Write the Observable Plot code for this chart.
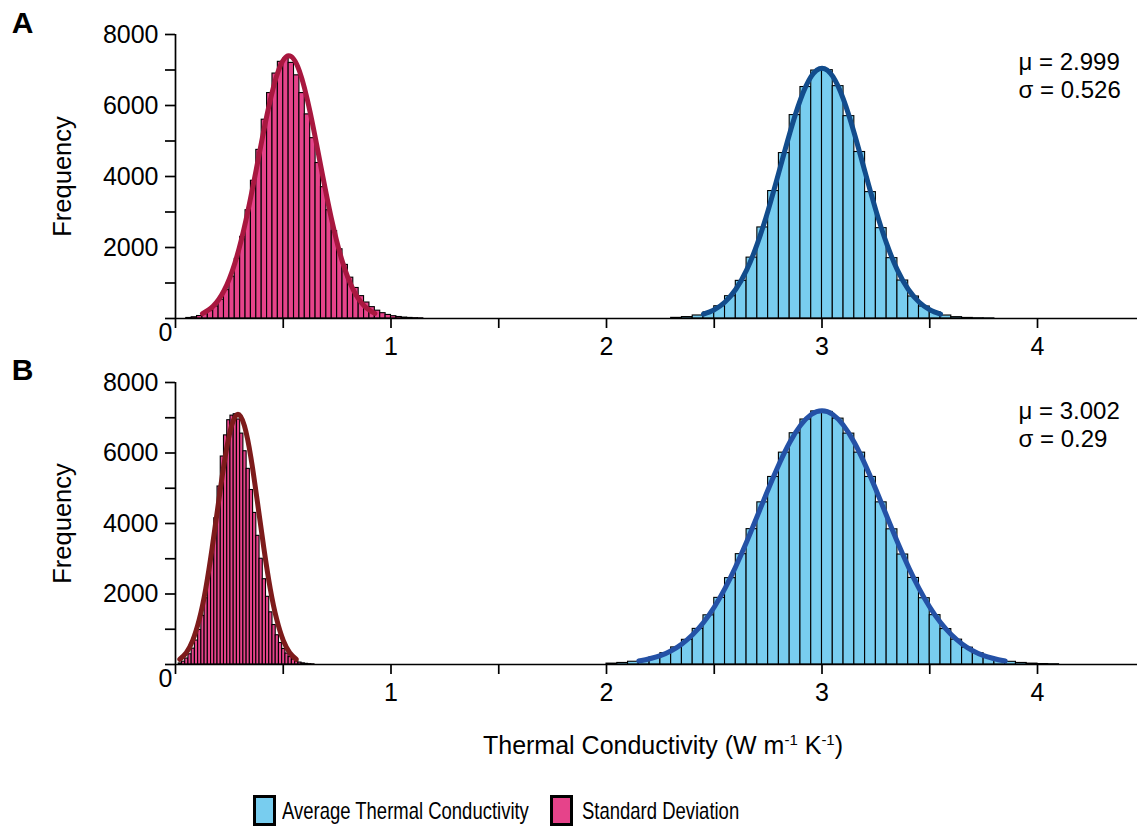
<!DOCTYPE html>
<html>
<head>
<meta charset="utf-8">
<script src="https://cdn.jsdelivr.net/npm/d3@7"></script>
<script src="https://cdn.jsdelivr.net/npm/@observablehq/plot@0.6"></script>
<style>
  body { margin: 0; background: #fff; font-family: "Liberation Sans", Arial, Helvetica, sans-serif; }
  #wrap { position: relative; width: 1137px; height: 827px; overflow: hidden; background: #fff; }
  .panel { position: absolute; left: 0; }
  #xlabel { position: absolute; left: 182px; width: 962px; top: 730px; text-align: center; font-size: 25px; line-height: 30px; color: #000; }
  #xlabel sup { font-size: 15px; vertical-align: 9px; line-height: 0; }
  .sw { position: absolute; box-sizing: border-box; width: 23px; height: 31px; border: 3.5px solid #000; top: 795px; }
  .lt { position: absolute; top: 796px; font-size: 24px; line-height: 30px; transform: scaleX(0.77); transform-origin: left center; white-space: nowrap; color: #000; }
</style>
</head>
<body>
<div id="wrap">
  <div id="panelA" class="panel" style="top:0px"></div>
  <div id="panelB" class="panel" style="top:348px"></div>
  <div id="xlabel">Thermal Conductivity (W m<sup>-1</sup> K<sup>-1</sup>)</div>
  <div id="legend"></div>
</div>
<script>
// ---------- data ----------
const seriesNames = ["Average Thermal Conductivity", "Standard Deviation"];

const yTicks = [0, 1000, 2000, 3000, 4000, 5000, 6000, 7000, 8000];
const yTickLabels = [2000, 4000, 6000, 8000];
const xTicks = [0, 0.5, 1, 1.5, 2, 2.5, 3, 3.5, 4];
const xTickLabels = [1, 2, 3, 4];

// Panel A histograms
const avgA_start = 2.30, avgA_width = 0.05;
const avgA_counts = [18, 40, 85, 172, 345, 628, 1060, 1715, 2565, 3590, 4660, 5730, 6520, 6985,
  6995, 6545, 5700, 4690, 3560, 2545, 1700, 1070, 620, 338, 176, 84, 38, 16, 7, 3];
const stdA_start = 0.05, stdA_width = 0.025;
const stdA_counts = [15, 35, 70, 125, 210, 340, 530, 800, 1180, 1680, 2300, 3050, 3880, 4750,
  5600, 6350, 6900, 7230, 7320, 7200, 6850, 6350, 5750, 5080, 4380, 3700, 3050, 2460, 1950,
  1510, 1150, 860, 630, 450, 320, 220, 150, 100, 65, 42, 26, 16, 9, 5];

// Panel A fitted curves
const avgA_curveX = [2.45, 2.50, 2.55, 2.60, 2.65, 2.70, 2.75, 2.80, 2.85, 2.90, 2.95, 3.00,
  3.05, 3.10, 3.15, 3.20, 3.25, 3.30, 3.35, 3.40, 3.45, 3.50, 3.55];
const avgA_curveY = [122, 246, 465, 823, 1362, 2107, 3046, 4121, 5212, 6165, 6818, 7050,
  6818, 6165, 5212, 4121, 3046, 2107, 1362, 823, 465, 246, 122];
const stdA_curveX = [0.125, 0.175, 0.225, 0.275, 0.325, 0.375, 0.425, 0.475, 0.525, 0.575,
  0.625, 0.675, 0.725, 0.775, 0.825, 0.875, 0.925];
const stdA_curveY = [137, 349, 782, 1550, 2720, 4206, 5746, 6938, 7400, 6972, 5803, 4270,
  2773, 1589, 806, 361, 143];

// Panel B histograms
const avgB_start = 2.00, avgB_width = 0.05;
const avgB_counts = [25, 44, 78, 128, 205, 320, 485, 700, 1010, 1395, 1890, 2450, 3130, 3840,
  4600, 5320, 6010, 6560, 6950, 7180, 7165, 6975, 6550, 6010, 5320, 4600, 3835, 3120, 2455,
  1880, 1400, 1005, 705, 478, 318, 200, 128, 76, 44, 25, 13, 7];
const stdB_start = 0.015, stdB_width = 0.015;
const stdB_counts = [30, 80, 170, 290, 450, 680, 980, 1380, 1880, 2500, 3250, 4150, 5050, 5900,
  6500, 6930, 7060, 7100, 6950, 6550, 6050, 5550, 4950, 4300, 3650, 3000, 2420, 1920, 1480,
  1120, 830, 610, 440, 310, 210, 140, 90, 55, 33, 19, 10, 5];

// Panel B fitted curves
const avgB_curveX = [2.15, 2.25, 2.35, 2.45, 2.55, 2.65, 2.75, 2.85, 2.95, 3.05, 3.15, 3.25,
  3.35, 3.45, 3.55, 3.65, 3.75, 3.85];
const avgB_curveY = [98, 254, 584, 1191, 2160, 3476, 4965, 6299, 7093, 7093, 6299, 4965,
  3476, 2160, 1191, 584, 254, 98];
const stdB_curveX = [0.02, 0.05, 0.08, 0.11, 0.14, 0.17, 0.20, 0.23, 0.26, 0.29, 0.32, 0.35,
  0.38, 0.41, 0.44, 0.47, 0.50, 0.53, 0.56];
const stdB_curveY = [148, 333, 684, 1270, 2140, 3304, 4617, 5870, 6768, 7100, 6768, 5870,
  4617, 3304, 2140, 1270, 684, 333, 148];

const statsA = ["μ = 2.999", "σ = 0.526"];
const statsB = ["μ = 3.002", "σ = 0.29"];

// ---------- styles ----------
const AVG_FILL = "#78CDEF";
const STD_FILL = "#E6438A";
const FONT = "'Liberation Sans', Arial, Helvetica, sans-serif";

function bars(start, width, counts) {
  return counts.map((c, i) => ({x1: start + i * width, x2: start + (i + 1) * width, y: c}));
}
function pts(xs, ys) { return xs.map((x, i) => ({x, y: ys[i]})); }

function panel(cfg) {
  return Plot.plot({
    width: 1137, height: 360,
    marginLeft: 175, marginRight: 0, marginTop: 34, marginBottom: cfg.marginBottom,
    x: {domain: [0, 4.464]},
    y: {domain: [0, 8000]},
    style: {fontFamily: FONT, fontSize: "25px", color: "#000", background: "transparent", overflow: "visible"},
    marks: [
      Plot.rectY(cfg.avgBars, {x1: "x1", x2: "x2", y: "y", fill: AVG_FILL, stroke: "#000", strokeWidth: 1.1}),
      Plot.rectY(cfg.stdBars, {x1: "x1", x2: "x2", y: "y", fill: STD_FILL, stroke: "#000", strokeWidth: 1.1}),
      Plot.line(cfg.avgCurve, {x: "x", y: "y", stroke: cfg.avgLine, strokeWidth: 5, curve: "natural"}),
      Plot.line(cfg.stdCurve, {x: "x", y: "y", stroke: cfg.stdLine, strokeWidth: 5, curve: "natural"}),
      Plot.ruleY([0], {stroke: "#000", strokeWidth: 1.7}),
      Plot.ruleX([0], {stroke: "#000", strokeWidth: 1.7}),
      Plot.axisY({ticks: yTicks, tickSize: 10, tickPadding: 7, strokeWidth: 1.7, fontSize: 25,
        tickFormat: d => yTickLabels.includes(d) ? String(d) : "", label: null}),
      Plot.axisX({ticks: xTicks, tickSize: 10, tickPadding: 9, strokeWidth: 1.7, fontSize: 25,
        tickFormat: d => xTickLabels.includes(d) ? String(d) : "", label: null}),
      Plot.text(["0"], {x: 0, y: 0, text: d => d, dx: -3, dy: 14, textAnchor: "end", fontSize: 25}),
      Plot.text(["Frequency"], {frameAnchor: "left", text: d => d, dx: -113, rotate: -90,
        textAnchor: "middle", lineAnchor: "middle", fontSize: 25.5}),
      Plot.text([cfg.letter], {frameAnchor: "top-left", text: d => d, dx: -153, dy: cfg.letterDy,
        textAnchor: "middle", lineAnchor: "middle", fontWeight: "bold", fontSize: 30}),
      Plot.text([cfg.stats[0]], {x: 3.912, frameAnchor: "top", dy: cfg.statDy[0], text: d => d,
        textAnchor: "start", lineAnchor: "middle", fontSize: 24}),
      Plot.text([cfg.stats[1]], {x: 3.912, frameAnchor: "top", dy: cfg.statDy[1], text: d => d,
        textAnchor: "start", lineAnchor: "middle", fontSize: 24})
    ]
  });
}

document.getElementById("panelA").appendChild(panel({
  letter: "A", letterDy: -11, marginBottom: 42,
  avgBars: bars(avgA_start, avgA_width, avgA_counts),
  stdBars: bars(stdA_start, stdA_width, stdA_counts),
  avgCurve: pts(avgA_curveX, avgA_curveY),
  stdCurve: pts(stdA_curveX, stdA_curveY),
  avgLine: "#124C8C", stdLine: "#A8173F",
  stats: statsA, statDy: [28, 56]
}));
document.getElementById("panelB").appendChild(panel({
  letter: "B", letterDy: -12, marginBottom: 44,
  avgBars: bars(avgB_start, avgB_width, avgB_counts),
  stdBars: bars(stdB_start, stdB_width, stdB_counts),
  avgCurve: pts(avgB_curveX, avgB_curveY),
  stdCurve: pts(stdB_curveX, stdB_curveY),
  avgLine: "#2451A6", stdLine: "#7D1B1B",
  stats: statsB, statDy: [29, 57]
}));

// legend
const legend = document.getElementById("legend");
const items = [
  {name: seriesNames[0], fill: AVG_FILL, sw: 253, tx: 282},
  {name: seriesNames[1], fill: STD_FILL, sw: 550, tx: 582}
];
for (const it of items) {
  const s = document.createElement("div");
  s.className = "sw"; s.style.left = it.sw + "px"; s.style.background = it.fill;
  legend.appendChild(s);
  const t = document.createElement("div");
  t.className = "lt"; t.style.left = it.tx + "px"; t.textContent = it.name;
  legend.appendChild(t);
}
</script>
</body>
</html>
